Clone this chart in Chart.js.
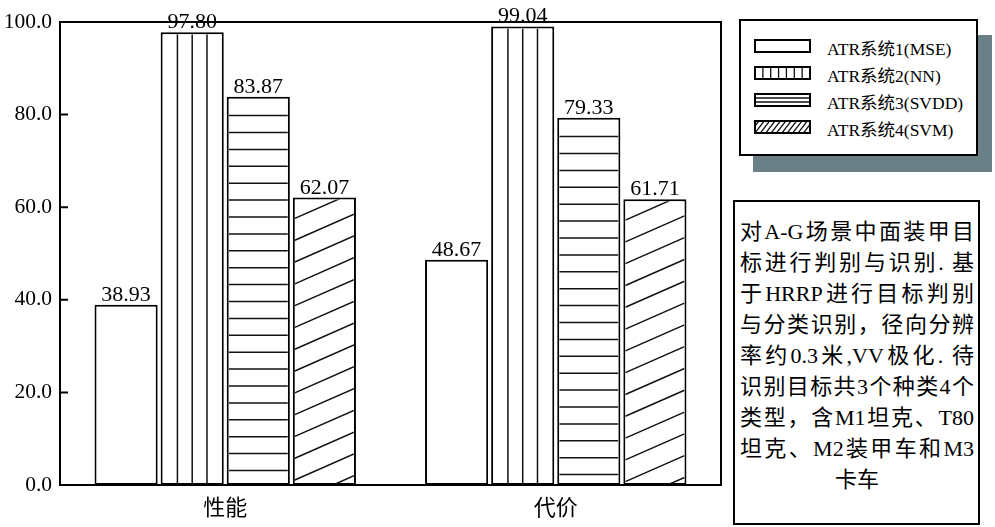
<!DOCTYPE html>
<html lang="zh">
<head>
    <meta charset="UTF-8">
    <script src="https://cdn.jsdelivr.net/npm/chart.js@4.4.1/dist/chart.umd.min.js"></script>
    <title>ATR chart</title>
    <style type="text/css">
        body { margin: 0; background: #fff; width: 995px; height: 527px; position: relative; overflow: hidden; }
        #wrap { position: absolute; left: 0; top: 0; width: 730px; height: 527px; }
        #legend {
            position: absolute; left: 739px; top: 19px; width: 239px; height: 137px;
            box-sizing: border-box; border: 2px solid #000; background: #fff;
            box-shadow: 14px 16px 0 #6b7f86;
        }
        .row { position: absolute; left: 13px; height: 20px; }
        .row canvas { position: absolute; left: 0; top: 3px; }
        .row span {
            position: absolute; left: 73px; top: -1px; white-space: nowrap;
            font-family: "Liberation Serif", "Noto Sans CJK SC", serif; font-size: 17.5px; color: #000;
        }
        #note {
            position: absolute; left: 733px; top: 200px; width: 247px; height: 325px;
            box-sizing: border-box; border: 2px solid #000; padding: 14px 4px 0 5px;
            font-family: "Liberation Serif", "Noto Sans CJK SC", serif; font-size: 22px; color: #000;
            line-height: 31px;
        }
        #note div { white-space: nowrap; text-align: justify; text-align-last: justify; }
        #note div.last { text-align-last: center; }
    </style>
</head>
<body>
    <div id="wrap"><canvas id="barCanvas" width="730" height="527"></canvas></div>
    <div id="legend"></div>
    <div id="note"></div>
<script>
// data
var categories = ['性能', '代价'];
var seriesNames = ['ATR系统1(MSE)', 'ATR系统2(NN)', 'ATR系统3(SVDD)', 'ATR系统4(SVM)'];
var mseValues = [38.93, 48.67];
var nnValues = [97.80, 99.04];
var svddValues = [83.87, 79.33];
var svmValues = [62.07, 61.71];
var yTicks = [0, 20, 40, 60, 80, 100];
var hatchTypes = ['none', 'vertical', 'horizontal', 'diagonal'];
var noteLines = [
    '对A-G场景中面装甲目',
    '标进行判别与识别.  基',
    '于HRRP进行目标判别',
    '与分类识别，径向分辨',
    '率约0.3米,VV极化. 待',
    '识别目标共3个种类4个',
    '类型，含M1坦克、T80',
    '坦克、M2装甲车和M3',
    '卡车'
];

// hatch lines inside a rectangle
function drawHatch(ctx, type, left, top, w, h, o) {
    if (type == 'none') return;
    ctx.save();
    ctx.beginPath();
    ctx.rect(left, top, w, h);
    ctx.clip();
    ctx.strokeStyle = '#111';
    ctx.lineWidth = o.lw;
    ctx.beginPath();
    if (type == 'vertical') {
        for (var i = 1; i < o.cols; i++) {
            var xx = left + w * i / o.cols;
            ctx.moveTo(xx, top);
            ctx.lineTo(xx, top + h);
        }
    } else if (type == 'horizontal') {
        for (var yy = top + o.hStep; yy < top + h; yy += o.hStep) {
            ctx.moveTo(left, yy);
            ctx.lineTo(left + w, yy);
        }
    } else if (type == 'diagonal') {
        for (var k = 1; ; k++) {
            var yl = top + o.dOff + o.dStep * k;
            var yr = yl - o.slope * w;
            if (yr > top + h) break;
            ctx.moveTo(left, yl);
            ctx.lineTo(left + w, yr);
        }
    }
    ctx.stroke();
    ctx.restore();
}

const barHatch = {
    id: 'barHatch',
    afterDatasetsDraw(chart) {
        const ctx = chart.ctx;
        chart.data.datasets.forEach(function (ds, i) {
            const meta = chart.getDatasetMeta(i);
            meta.data.forEach(function (bar, j) {
                const p = bar.getProps(['x', 'y', 'base', 'width'], true);
                const left = p.x - p.width / 2;
                drawHatch(ctx, hatchTypes[i], left + 2, p.y + 2, p.width - 4, p.base - p.y - 2,
                    { lw: 1.5, cols: 4, hStep: 16.9, dStep: 21.8, dOff: -3, slope: 0.44 });
                ctx.save();
                ctx.fillStyle = '#000';
                ctx.font = '22px "Liberation Serif", serif';
                ctx.textAlign = 'center';
                ctx.textBaseline = 'alphabetic';
                ctx.fillText(ds.data[j].toFixed(2), p.x, p.y - 4);
                ctx.restore();
            });
        });
    }
};

// frame, inner ticks and y tick labels
const frame = {
    id: 'frame',
    afterDraw(chart) {
        const ctx = chart.ctx;
        const a = chart.chartArea;
        const ys = chart.scales.y;
        ctx.save();
        ctx.strokeStyle = '#000';
        ctx.lineWidth = 2;
        ctx.strokeRect(a.left, a.top, a.right - a.left, a.bottom - a.top);
        ctx.beginPath();
        ctx.fillStyle = '#000';
        ctx.font = '21.5px "Liberation Serif", serif';
        ctx.textAlign = 'right';
        ctx.textBaseline = 'middle';
        yTicks.forEach(function (v) {
            const py = ys.getPixelForValue(v);
            ctx.moveTo(a.left, py);
            ctx.lineTo(a.left + 8, py);
            ctx.fillText(v.toFixed(1), a.left - 8, py);
        });
        ctx.stroke();
        ctx.restore();
    }
};

var values = [mseValues, nnValues, svddValues, svmValues];
var datasets = seriesNames.map(function (name, i) {
    return {
        label: name,
        data: values[i],
        backgroundColor: '#fff',
        borderColor: '#000',
        borderWidth: 2,
        borderSkipped: false,
        categoryPercentage: 0.80,
        barPercentage: 0.955
    };
});

new Chart(document.getElementById('barCanvas'), {
    type: 'bar',
    data: { labels: categories, datasets: datasets },
    options: {
        responsive: false,
        animation: false,
        layout: { padding: { top: 22, right: 9, left: 0, bottom: 0 } },
        plugins: { legend: { display: false }, tooltip: { enabled: false } },
        scales: {
            x: {
                grid: { display: false, drawTicks: false },
                border: { display: false },
                ticks: { color: '#000', padding: 8, font: { family: '"Noto Sans CJK SC"', size: 22 } },
                afterFit: function (s) { s.height = 42; }
            },
            y: {
                min: 0,
                max: 100,
                grid: { display: false, drawTicks: false },
                border: { display: false },
                ticks: { display: false },
                afterFit: function (s) { s.width = 60; }
            }
        }
    },
    plugins: [barHatch, frame]
});

// legend box
var legend = document.getElementById('legend');
var rowTops = [15, 42, 69, 96];
seriesNames.forEach(function (name, i) {
    var row = document.createElement('div');
    row.className = 'row';
    row.style.top = rowTops[i] + 'px';
    var c = document.createElement('canvas');
    c.width = 57; c.height = 14;
    var cx = c.getContext('2d');
    cx.fillStyle = '#fff';
    cx.fillRect(0, 0, 57, 14);
    drawHatch(cx, hatchTypes[i], 1, 1, 55, 12, { lw: 1.3, cols: 7, hStep: 4, dStep: 7, dOff: -2, slope: 1.3 });
    cx.strokeStyle = '#000';
    cx.lineWidth = 2;
    cx.strokeRect(1, 1, 55, 12);
    row.appendChild(c);
    var t = document.createElement('span');
    t.textContent = name;
    row.appendChild(t);
    legend.appendChild(row);
});

// note box
var note = document.getElementById('note');
noteLines.forEach(function (line, i) {
    var d = document.createElement('div');
    d.textContent = line;
    if (i == noteLines.length - 1) d.className = 'last';
    note.appendChild(d);
});
</script>
</body>
</html>
